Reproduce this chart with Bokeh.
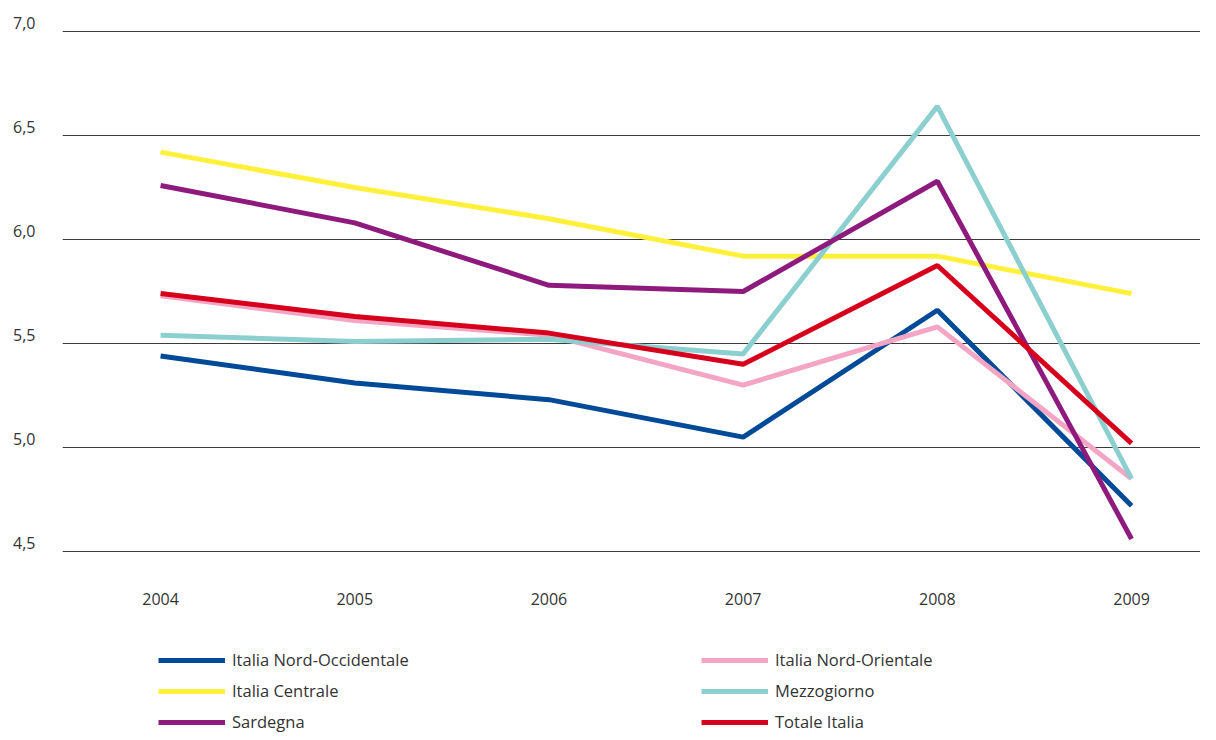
from bokeh.plotting import figure
from bokeh.models import (FixedTicker, CustomJSTickFormatter, Legend, LegendItem, Range1d)
from bokeh.embed import file_html
from bokeh.resources import INLINE

years = [2004, 2005, 2006, 2007, 2008, 2009]
nord_occ = [5.44, 5.31, 5.23, 5.05, 5.66, 4.72]
nord_or = [5.73, 5.61, 5.54, 5.30, 5.58, 4.85]
centrale = [6.42, 6.25, 6.10, 5.92, 5.92, 5.74]
mezzogiorno = [5.54, 5.51, 5.52, 5.45, 6.64, 4.85]
sardegna = [6.26, 6.08, 5.78, 5.75, 6.28, 4.56]
totale = [5.74, 5.63, 5.55, 5.40, 5.875, 5.02]

series = [
    ("Italia Nord-Occidentale", nord_occ, "#004a98"),
    ("Italia Nord-Orientale", nord_or, "#f3a5c3"),
    ("Italia Centrale", centrale, "#fff03c"),
    ("Mezzogiorno", mezzogiorno, "#8ccfcf"),
    ("Sardegna", sardegna, "#8e1a7e"),
    ("Totale Italia", totale, "#d6001c"),
]
y_ticks = [4.5, 5.0, 5.5, 6.0, 6.5, 7.0]

FONT = "Open Sans"
TXT = "#333333"

# frame: top at 20px, bottom at 732px; 208 px per unit on y
p = figure(width=1200, height=732, output_backend="svg", toolbar_location=None,
           x_axis_location="above",
           x_range=Range1d(2003.495, 2009.355), y_range=Range1d(3.6298, 7.0529),
           min_border_left=62, min_border_right=0, min_border_top=20,
           min_border_bottom=0)
p.outline_line_color = None
p.background_fill_color = "white"

renderers = {}
for name, vals, color in series:
    r = p.line(years, vals, line_color=color, line_width=5)
    renderers[name] = r

# labels of the value axis sit slightly above their gridlines
LABEL_LIFT = 0.043
p.xaxis.ticker = FixedTicker(ticks=years)
p.xaxis.formatter = CustomJSTickFormatter(code="return String(Math.round(tick));")
p.xaxis.fixed_location = 4.274
p.yaxis.ticker = FixedTicker(ticks=[t + LABEL_LIFT for t in y_ticks])
p.yaxis.formatter = CustomJSTickFormatter(
    args=dict(lift=LABEL_LIFT),
    code="return (tick - lift).toFixed(1).replace('.', ',');")
for ax in (p.xaxis, p.yaxis):
    ax.axis_line_color = None
    ax.major_tick_line_color = None
    ax.minor_tick_line_color = None
    ax.major_label_text_font = FONT
    ax.major_label_text_font_size = "16px"
    ax.major_label_text_color = TXT
p.xaxis.major_label_standoff = -12
p.yaxis.major_label_standoff = 21

p.xgrid.grid_line_color = None
p.ygrid.ticker = FixedTicker(ticks=y_ticks)
p.ygrid.grid_line_color = "#3a3a3a"
p.ygrid.grid_line_width = 1

order = ["Italia Nord-Occidentale", "Italia Nord-Orientale",
         "Italia Centrale", "Mezzogiorno", "Sardegna", "Totale Italia"]
items = [LegendItem(label=n, renderers=[renderers[n]]) for n in order]
legend = Legend(items=items, orientation="horizontal", ncols=2,
                location=(96, -1), padding=0, margin=0,
                border_line_color=None, background_fill_alpha=0,
                glyph_width=67, glyph_height=18, label_height=18,
                label_width=461, label_standoff=7, spacing=8,
                label_text_font=FONT, label_text_font_size="16.5px",
                label_text_color=TXT)
p.add_layout(legend, "center")

open("out.html", "w").write(file_html(p, INLINE))
